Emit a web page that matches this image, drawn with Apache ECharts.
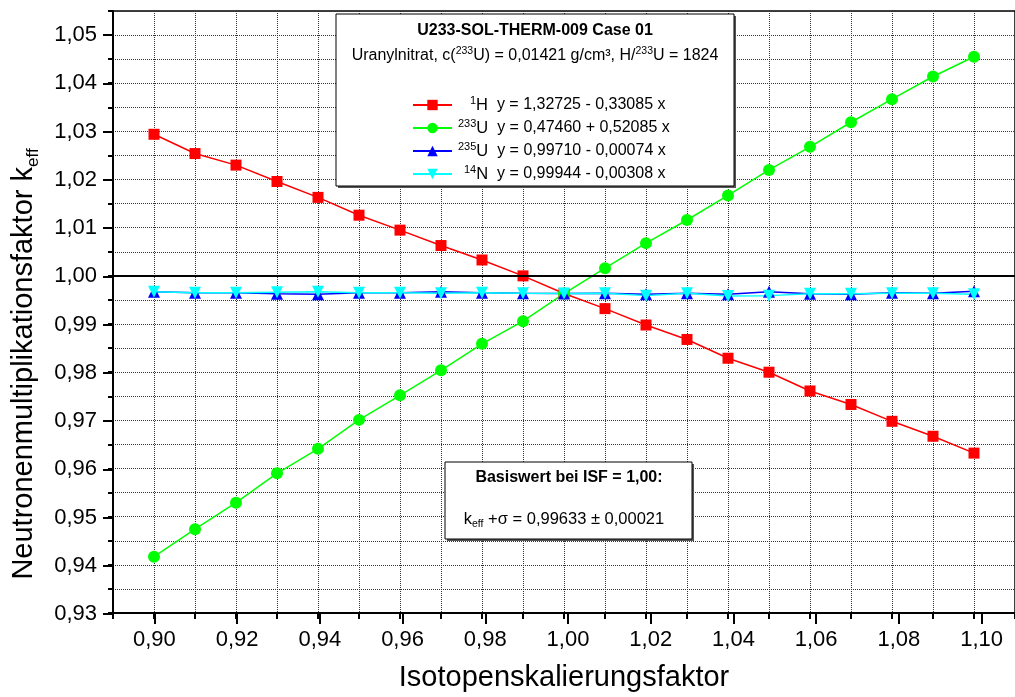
<!DOCTYPE html>
<html>
<head>
<meta charset="utf-8">
<script src="https://cdn.jsdelivr.net/npm/echarts@6/dist/echarts.min.js"></script>
<style>
html,body{margin:0;padding:0;background:#fff;}
#chart{width:1015px;height:697px;}
</style>
</head>
<body>
<div id="chart"></div>
<script>
// ---- data ----
const isf = [0.90, 0.91, 0.92, 0.93, 0.94, 0.95, 0.96, 0.97, 0.98, 0.99, 1.00,
             1.01, 1.02, 1.03, 1.04, 1.05, 1.06, 1.07, 1.08, 1.09, 1.10];
const keffH1 = [1.0294, 1.0254, 1.0230, 1.0196, 1.0163, 1.0126, 1.0095, 1.0063, 1.0033, 1.0000, 0.99633,
                0.9932, 0.9898, 0.9868, 0.9829, 0.9800, 0.9761, 0.9733, 0.9698, 0.9667, 0.9632];
const keffU233 = [0.9417, 0.9474, 0.9529, 0.9590, 0.9641, 0.9701, 0.9752, 0.9804, 0.9859, 0.9906, 0.99633,
                  1.0016, 1.0068, 1.0116, 1.0167, 1.0220, 1.0268, 1.0319, 1.0367, 1.0414, 1.0455];
const keffU235 = [0.9967, 0.9965, 0.9965, 0.9963, 0.9962, 0.9965, 0.9965, 0.9967, 0.9965, 0.9964, 0.99633,
                  0.9964, 0.9962, 0.9964, 0.9962, 0.9967, 0.9963, 0.9962, 0.9965, 0.9964, 0.9968];
const keffN14 = [0.9967, 0.9965, 0.9965, 0.9966, 0.9967, 0.9965, 0.9965, 0.9964, 0.9965, 0.9964, 0.99633,
                 0.9964, 0.9959, 0.9964, 0.9958, 0.9959, 0.9963, 0.9963, 0.9964, 0.9964, 0.9962];
const seriesNames = ['H1', 'U233', 'U235', 'N14'];
const legendLabels = {
  H1:   '{a|1}{t|H}  y = 1,32725 - 0,33085 x',
  U233: '{c|233}{t|U}  y = 0,47460 + 0,52085 x',
  U235: '{c|235}{t|U}  y = 0,99710 - 0,00074 x',
  N14:  '{b|14}{t|N}  y = 0,99944 - 0,00308 x'
};
const xRange = [0.89, 1.11];      // full axis extent
const xLabelRange = [0.90, 1.10]; // labelled range
const yRange = [0.93, 1.055];
const yLabelRange = [0.93, 1.05];
const referenceLine = 1.00;

const FONT = 'Liberation Sans, Arial, sans-serif';
const fmt = v => v.toFixed(2).replace('.', ',');
const pairs = ys => isf.map((x, i) => [x, ys[i]]);

// layout
const G0 = {left: 113, top: 11, width: 910, height: 603};
const pxX = G0.width / (xRange[1] - xRange[0]);
const pxY = G0.height / (yRange[1] - yRange[0]);
const G1 = {
  left: G0.left + (xLabelRange[0] - xRange[0]) * pxX,
  top: G0.top + (yRange[1] - yLabelRange[1]) * pxY,
  width: (xLabelRange[1] - xLabelRange[0]) * pxX,
  height: (yLabelRange[1] - yLabelRange[0]) * pxY
};

const chart = echarts.init(document.getElementById('chart'), null, {renderer: 'canvas'});
const gridDot = {show: true, lineStyle: {color: '#333', type: [1, 1], width: 1}};

const mkSeries = (name, ys, symbol, color, size, rot) => ({
  name, type: 'line', xAxisIndex: 0, yAxisIndex: 0,
  data: pairs(ys), symbol, symbolSize: size, symbolRotate: rot || 0,
  showSymbol: true, animation: false,
  lineStyle: {color, width: 1.5},
  itemStyle: {color, borderColor: color, borderWidth: 0}
});

const s1 = mkSeries('H1', keffH1, 'rect', '#ff0000', 11);
s1.markLine = {
  silent: true, symbol: 'none', animation: false,
  label: {show: false},
  lineStyle: {color: '#000', type: 'solid', width: 2},
  data: [{yAxis: referenceLine}]
};

const supBase = {fontSize: 11, verticalAlign: 'top', fontFamily: FONT, color: '#000'};

const option = {
  animation: false,
  textStyle: {fontFamily: FONT},
  grid: [
    Object.assign({show: true, borderColor: '#000', borderWidth: 1.5, backgroundColor: 'transparent'}, G0),
    Object.assign({show: false}, G1)
  ],
  xAxis: [
    {
      type: 'value', gridIndex: 0, min: xRange[0], max: xRange[1], interval: 0.01,
      axisLine: {show: true, onZero: false, lineStyle: {color: '#000', width: 2}},
      axisTick: {show: true, length: 6, lineStyle: {color: '#000', width: 2}},
      axisLabel: {show: false},
      splitLine: gridDot,
      name: 'Isotopenskalierungsfaktor', nameLocation: 'middle', nameGap: 50,
      nameTextStyle: {fontSize: 29, color: '#000', fontFamily: FONT}
    },
    {
      type: 'value', gridIndex: 1, min: xLabelRange[0], max: xLabelRange[1], interval: 0.02,
      axisLine: {show: false},
      axisTick: {show: true, length: 10, lineStyle: {color: '#000', width: 2}},
      axisLabel: {show: true, formatter: fmt, fontSize: 22, color: '#000', margin: 15, fontFamily: FONT},
      splitLine: {show: false}
    }
  ],
  yAxis: [
    {
      type: 'value', gridIndex: 0, min: yRange[0], max: yRange[1], interval: 0.005,
      axisLine: {show: true, onZero: false, lineStyle: {color: '#000', width: 2}},
      axisTick: {show: true, length: 5, lineStyle: {color: '#000', width: 2}},
      axisLabel: {show: false},
      splitLine: gridDot
    },
    {
      type: 'value', gridIndex: 1, min: yLabelRange[0], max: yLabelRange[1], interval: 0.01,
      position: 'left', offset: G1.left - G0.left,
      axisLine: {show: false},
      axisTick: {show: true, length: 10, lineStyle: {color: '#000', width: 2}},
      axisLabel: {show: true, formatter: fmt, fontSize: 22, color: '#000', margin: 16, fontFamily: FONT},
      splitLine: {show: false}
    }
  ],
  legend: {
    orient: 'vertical', left: 407, top: 90, z: 20,
    itemWidth: 39, itemHeight: 13, itemGap: 3,
    data: seriesNames,
    formatter: n => legendLabels[n],
    selectedMode: false,
    textStyle: {
      fontFamily: FONT, fontSize: 16, color: '#000', lineHeight: 20,
      rich: {
        a: Object.assign({padding: [0, 0, 0, 13]}, supBase),
        b: Object.assign({padding: [0, 0, 0, 7]}, supBase),
        c: Object.assign({padding: [0, 0, 0, 1]}, supBase),
        t: {fontSize: 16.5, fontFamily: FONT, color: '#000'}
      }
    }
  },
  graphic: [
    // legend box
    {type: 'rect', z: 8, shape: {x: 338, y: 16, width: 398, height: 172}, style: {fill: '#555'}},
    {type: 'rect', z: 9, shape: {x: 336, y: 14, width: 398, height: 172}, style: {fill: '#fff', stroke: '#000', lineWidth: 1}},
    {type: 'text', z: 10, x: 535, y: 31, style: {text: 'U233-SOL-THERM-009 Case 01', font: 'bold 16px ' + FONT, fill: '#000', align: 'center', verticalAlign: 'middle'}},
    {type: 'text', z: 10, x: 535, y: 56, style: {
      text: 'Uranylnitrat, c({s|233}U) = 0,01421 g/cm³, H/{s|233}U = 1824',
      font: '16px ' + FONT, fontSize: 16, fontFamily: FONT, fill: '#000', align: 'center', verticalAlign: 'middle', lineHeight: 20,
      rich: {s: {fontSize: 10.5, fontFamily: FONT, verticalAlign: 'top', fill: '#000'}}
    }},
    // base value box
    {type: 'rect', z: 8, shape: {x: 447, y: 464, width: 247, height: 77}, style: {fill: '#555'}},
    {type: 'rect', z: 9, shape: {x: 445, y: 462, width: 247, height: 77}, style: {fill: '#fff', stroke: '#000', lineWidth: 1}},
    {type: 'text', z: 10, x: 569, y: 478, style: {text: 'Basiswert bei ISF = 1,00:', font: 'bold 16px ' + FONT, fill: '#000', align: 'center', verticalAlign: 'middle'}},
    {type: 'text', z: 10, x: 564, y: 519, style: {
      text: '{k|k}{e|eff} +σ = 0,99633 ± 0,00021',
      fontSize: 16.5, fontFamily: FONT, fill: '#000', align: 'center', verticalAlign: 'middle', lineHeight: 22,
      rich: {k: {fontSize: 16.5, fontFamily: FONT, fill: '#000'}, e: {fontSize: 10.5, fontFamily: FONT, verticalAlign: 'bottom', fill: '#000'}}
    }},
    // y axis title
    {type: 'text', z: 10, x: 24, y: 364, rotation: Math.PI / 2, style: {
      text: 'Neutronenmultiplikationsfaktor k{e|eff}',
      fontSize: 29, fontFamily: FONT, fill: '#000', align: 'center', verticalAlign: 'middle', lineHeight: 36,
      rich: {e: {fontSize: 17, fontFamily: FONT, verticalAlign: 'bottom', fill: '#000'}}
    }}
  ],
  series: [
    s1,
    mkSeries('U233', keffU233, 'circle', '#00ff00', 12),
    mkSeries('U235', keffU235, 'triangle', '#0000ff', 12),
    mkSeries('N14', keffN14, 'triangle', '#00ffff', 12, 180)
  ]
};
chart.setOption(option);
</script>
</body>
</html>
